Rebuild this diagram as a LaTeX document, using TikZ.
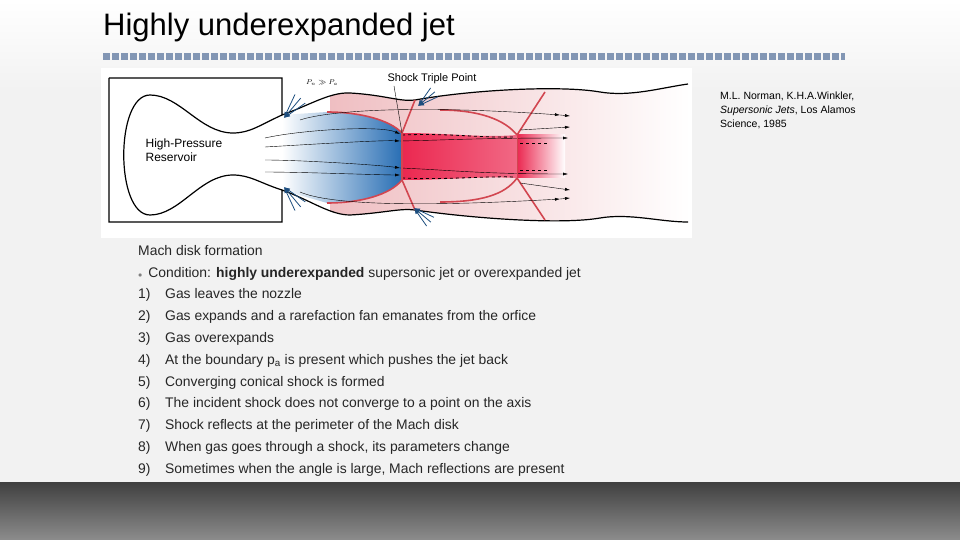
\documentclass[tikz,border=0pt]{standalone}
\usepackage{fontspec}
\setmainfont{Liberation Sans}
\usetikzlibrary{arrows.meta, positioning}
\definecolor{slidebg}{RGB}{242,242,242}
\definecolor{barblue}{RGB}{130,150,180}
\definecolor{fanblue}{RGB}{40,110,180}
\definecolor{shockred}{RGB}{210,70,80}
\definecolor{diskred}{RGB}{235,40,80}
\begin{document}
\begin{tikzpicture}[x=1pt, y=-1pt,
	list item/.style = {anchor=base west, font=\fontsize{13.9}{15}\selectfont, text=black!85, inner sep=0pt},
	flow line/.style = {thin, -{Latex[length=5pt, width=3pt]}},
	jet edge/.style = {line width=1.2pt, black},
	shock line/.style = {line width=1.6pt, shockred},
	fan arrow/.style = {thick, fanblue!70!black, {Latex[length=6pt]}-}
]
% slide background
\fill[slidebg] (0,0) rectangle (960,540);
\shade[top color=white, bottom color=slidebg] (0,0) rectangle (960,90);
\shade[top color=black!75, bottom color=black!45] (0,482) rectangle (960,540);
\useasboundingbox (0,0) rectangle (960,540);

% title and bar
\node[anchor=west, font=\fontsize{31}{34}\selectfont, inner sep=0pt] (title) at (103,27) {Highly underexpanded jet};
\draw[barblue, line width=7pt, dash pattern=on 7pt off 2pt] (103,57) -- (845,57);

% picture
\fill[white] (101,68) rectangle (692,238);
\begin{scope}
\clip (282,115) .. controls (310,105) and (330,92) .. (350,93)
	.. controls (385,95) and (400,102) .. (415,100) .. controls (470,90) and (560,85) .. (600,92)
	.. controls (630,97) and (660,88) .. (688,84) -- (688,222)
	.. controls (660,222) and (630,213) .. (600,218) .. controls (560,225) and (470,218) .. (415,210)
	.. controls (400,208) and (385,213) .. (350,215) .. controls (330,215) and (310,200) .. (282,190) -- cycle;
\shade[left color=shockred!35, right color=white] (330,80) rectangle (690,230);
\shade[left color=white, right color=fanblue] (282,115) -- (327,112) .. controls (360,112) and (390,120) .. (402,133)
	-- (402,180) .. controls (390,195) and (360,203) .. (327,203) -- (282,190) -- cycle;
\end{scope}
\shade[left color=diskred, right color=diskred!70] (402,133) .. controls (450,133) and (480,138) .. (517,135)
	-- (517,178) .. controls (480,176) and (450,180) .. (402,180) -- cycle;
\shade[left color=diskred, right color=white] (517,135) rectangle (565,178);

% reservoir and jet boundary
\draw[jet edge] (109,78) -| (282,115) .. controls (310,105) and (330,92) .. (350,93)
	.. controls (385,95) and (400,102) .. (415,100) .. controls (470,90) and (560,85) .. (600,92)
	.. controls (630,97) and (660,88) .. (688,84);
\draw[jet edge] (282,115) .. controls (260,125) and (250,133) .. (233,133)
	.. controls (200,133) and (180,95) .. (150,95) .. controls (115,95) and (115,215) .. (150,215)
	.. controls (180,215) and (200,175) .. (233,175) .. controls (250,175) and (260,183) .. (282,190);
\draw[jet edge] (109,78) -- (109,222) -| (282,190) .. controls (310,200) and (330,215) .. (350,215)
	.. controls (385,213) and (400,208) .. (415,210) .. controls (470,218) and (560,225) .. (600,218)
	.. controls (630,213) and (660,222) .. (688,222);

% shocks
\draw[shock line] (327,112) .. controls (360,112) and (390,120) .. (402,133);
\draw[shock line] (327,203) .. controls (360,203) and (390,195) .. (402,180);
\draw[shock line] (402,133) -- (415,100);
\draw[shock line] (402,180) -- (415,210);
\draw[shock line] (440,110) .. controls (480,110) and (505,120) .. (517,135);
\draw[shock line] (440,202) .. controls (480,202) and (505,195) .. (517,178);
\draw[shock line] (517,135) -- (545,92);
\draw[shock line] (517,178) -- (545,220);

% streamlines
\draw[flow line] (265,138) .. controls (300,130) and (380,125) .. (400,134);
\draw[flow line] (265,147) .. controls (300,145) and (380,140) .. (400,141);
\draw[flow line] (265,160) .. controls (300,160) and (380,165) .. (400,168);
\draw[flow line] (265,172) .. controls (300,172) and (380,175) .. (400,175);
\draw[flow line] (300,120) .. controls (330,110) and (420,105) .. (560,115);
\draw[flow line] (300,192) .. controls (330,205) and (420,207) .. (560,199);
\draw[flow line] (400,141) .. controls (450,140) and (480,138) .. (568,138);
\draw[flow line] (400,168) .. controls (450,170) and (480,174) .. (568,174);
\draw[flow line] (560,115) -- (570,116);
\draw[flow line] (560,199) -- (570,198);
\draw[flow line] (520,130) -- (570,127);
\draw[flow line] (520,183) -- (570,190);
\draw[dashed, thick] (402,135) .. controls (450,133) and (480,138) .. (515,137);
\draw[dashed, thick] (402,178) .. controls (450,180) and (480,176) .. (515,177);
\draw[dashed, thick] (520,143) -- (548,143);
\draw[dashed, thick] (520,170) -- (548,170);

% rarefaction fans
\foreach \a in {35,50,65} {
	\draw[fan arrow] (284,118) -- ++(-\a:26);
	\draw[fan arrow] (284,187) -- ++(\a:26);
	\draw[fan arrow] (418,106) -- ++(-\a+10:22);
	\draw[fan arrow] (414,208) -- ++(\a-10:22);
}

% labels in picture
\node[font=\fontsize{12}{14}\selectfont, align=left] (resv) at (184,150) {High-Pressure\\Reservoir};
\node[font=\scriptsize\itshape] (pres) at (322,83) {$P_n \gg P_a$};
\node[font=\fontsize{11}{13}\selectfont] (triple) at (432,79) {Shock Triple Point};
\draw[thin] (394,86) -- (402,133);

% Mach disk on top
\draw[shock line] (402,133) -- (402,180);
\draw[shock line, line width=1pt] (517,135) -- (517,178);

% citation
\node[anchor=north west, align=left, font=\fontsize{10.5}{14}\selectfont, inner sep=0pt] (cite) at (720,92)
	{M.L. Norman, K.H.A.Winkler,\\ \textit{Supersonic Jets}, Los Alamos\\ Science, 1985};

% list
\node[list item] (head) at (138,255) {Mach disk formation};
\node[list item] (cond) at (138,277) {\textcolor{black!50}{\footnotesize$\bullet$}\hspace{6pt}Condition: \textbf{highly underexpanded} supersonic jet or overexpanded jet};
\foreach \n/\txt [count=\i] in {
	1/Gas leaves the nozzle,
	2/Gas expands and a rarefaction fan emanates from the orfice,
	3/Gas overexpands,
	4/{At the boundary p$_{\mathrm a}$ is present which pushes the jet back},
	5/Converging conical shock is formed,
	6/The incident shock does not converge to a point on the axis,
	7/Shock reflects at the perimeter of the Mach disk,
	8/{When gas goes through a shock, its parameters change},
	9/{Sometimes when the angle is large, Mach reflections are present}} {
	\node[list item] (num\n) at (138,277+21.8*\i) {\n)};
	\node[list item] (item\n) at (165,277+21.8*\i) {\txt};
}
\end{tikzpicture}
\end{document}
